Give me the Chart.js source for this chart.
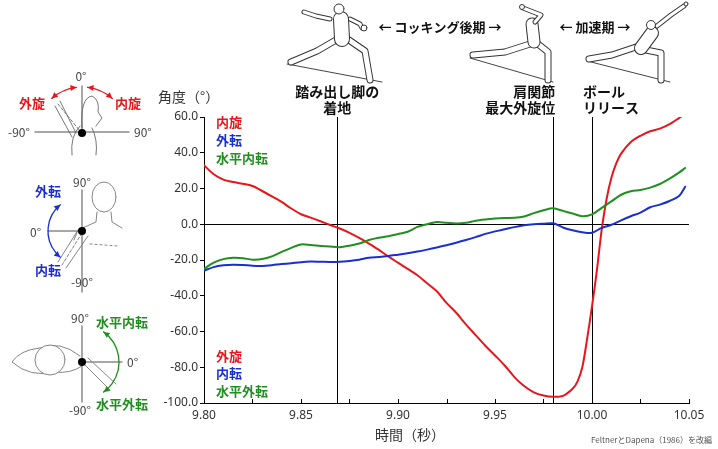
<!DOCTYPE html>
<html>
<head>
<meta charset="utf-8">
<script src="https://cdn.jsdelivr.net/npm/chart.js@4.4.1/dist/chart.umd.min.js"></script>
<style>
  html, body { margin: 0; padding: 0; background: #fff; }
  #wrap { position: relative; width: 718px; height: 449px; }
</style>
</head>
<body>
<div id="wrap"><canvas id="chart" width="718" height="449"></canvas></div>
<script>
// time (s) shared by the blue and green series
var times = [9.800, 9.805, 9.810, 9.815, 9.820, 9.825, 9.830, 9.835, 9.840, 9.845,
             9.850, 9.855, 9.860, 9.865, 9.870, 9.875, 9.880, 9.885, 9.890, 9.895,
             9.900, 9.905, 9.910, 9.915, 9.920, 9.925, 9.930, 9.935, 9.940, 9.945,
             9.950, 9.955, 9.960, 9.965, 9.970, 9.975, 9.980, 9.985, 9.990, 9.995,
             10.000, 10.005, 10.010, 10.015, 10.020, 10.025, 10.030, 10.035, 10.040, 10.045,
             10.048];

// 外転(+) / 内転(-)  blue
var abduction = [-26, -24, -23, -22.6, -22.8, -23.2, -23.3, -22.9, -22.3, -21.8,
                 -21.2, -20.9, -21, -21.1, -21, -20.5, -19.8, -18.8, -18.3, -17.8,
                 -17, -16.2, -15.3, -14.2, -13, -11.7, -10.3, -8.8, -7.2, -5.4,
                 -4, -2.8, -1.6, -0.6, 0, 0.3, 0.5, -1.8, -3.4, -4.5,
                 -4.8, -2, -0.3, 2.2, 4.5, 6.5, 9.5, 11, 13, 16,
                 21];

// 水平内転(+) / 水平外転(-)  green
var horizontal = [-25, -21.5, -19.5, -18.8, -19, -19.8, -19.5, -18, -15.5, -13.2,
                  -11.3, -11.6, -12.1, -12.5, -12.8, -12, -10.8, -8.8, -7.5, -6.7,
                  -5.5, -4.2, -1.5, 0, 1.3, 0.8, 0.4, 0.8, 2, 2.7,
                  3.2, 3.5, 3.6, 4.3, 6.2, 7.8, 8.9, 7.5, 6, 4.5,
                  5.5, 9.2, 12.8, 16.5, 18.5, 19.2, 20.5, 22.5, 25.5, 29,
                  31.5];

// 内旋(+) / 外旋(-)  red, sampled more densely around release
var rotTimes = [9.800, 9.805, 9.810, 9.815, 9.820, 9.825, 9.830, 9.835, 9.840, 9.845,
                9.850, 9.855, 9.860, 9.865, 9.870, 9.875, 9.880, 9.885, 9.890, 9.895,
                9.900, 9.905, 9.910, 9.915, 9.920, 9.925, 9.930, 9.935, 9.940, 9.945,
                9.950, 9.955, 9.960, 9.965, 9.970, 9.975, 9.980, 9.985, 9.990, 9.9925,
                9.995, 9.9975, 10.000, 10.0025, 10.005, 10.0075, 10.010, 10.0125, 10.015, 10.020,
                10.025, 10.030, 10.035, 10.040, 10.045, 10.047];
var rotation = [33, 28, 25, 23.6, 22.7, 21.4, 18.6, 15.6, 12.5, 8.8,
                5.6, 3.7, 1.7, -0.4, -2.4, -4.8, -7.6, -10.8, -14.2, -18,
                -21.5, -25, -28.5, -33, -37.5, -44, -49.5, -56, -62, -68,
                -73.4, -79, -85.5, -90.5, -94, -95.8, -96.5, -96, -92, -88,
                -80, -64, -46, -26, -3, 14, 26, 34, 39.5, 46,
                49.5, 52, 53.5, 56, 59.5, 61];

// event markers (s)
var eventTimes = [9.8687, 9.98, 10.00];

var xMin = 9.80, xMax = 10.05, xStep = 0.025;
var yMin = -100, yMax = 60, yStep = 20;

var RED = '#e8161b', BLUE = '#1a2fd0', GREEN = '#1f8f1f';
var JP = '"Noto Sans CJK JP", "Noto Sans", sans-serif';

function pairs(xs, ys) {
    return xs.map(function (x, i) { return { x: x, y: ys[i] }; });
}

function txt(ctx, s, x, y, font, color, align) {
    ctx.font = font;
    ctx.fillStyle = color;
    ctx.textAlign = align || 'left';
    ctx.textBaseline = 'middle';
    ctx.fillText(s, x, y);
}

function arrowHead(ctx, x, y, ang, color) {
    ctx.save();
    ctx.fillStyle = color;
    ctx.translate(x, y);
    ctx.rotate(ang);
    ctx.beginPath();
    ctx.moveTo(0, 0);
    ctx.lineTo(-6, -3);
    ctx.lineTo(-6, 3);
    ctx.closePath();
    ctx.fill();
    ctx.restore();
}

// arc around (cx,cy) from a0 to a1 with arrow heads at both ends
function arcArrow(ctx, cx, cy, r, a0, a1, ccw, color) {
    ctx.save();
    ctx.strokeStyle = color;
    ctx.lineWidth = 1.3;
    ctx.beginPath();
    ctx.arc(cx, cy, r, a0, a1, ccw);
    ctx.stroke();
    var d = ccw ? -1 : 1;
    arrowHead(ctx, cx + r * Math.cos(a1), cy + r * Math.sin(a1), a1 + d * Math.PI / 2, color);
    arrowHead(ctx, cx + r * Math.cos(a0), cy + r * Math.sin(a0), a0 - d * Math.PI / 2, color);
    ctx.restore();
}

function poly(ctx, pts) {
    ctx.beginPath();
    ctx.moveTo(pts[0][0], pts[0][1]);
    for (var i = 1; i < pts.length; i++) ctx.lineTo(pts[i][0], pts[i][1]);
    ctx.stroke();
}

// outlined limb: dark wide stroke with a white core
function limb(ctx, pts, w) {
    ctx.strokeStyle = '#333';
    ctx.lineWidth = w + 2;
    poly(ctx, pts);
    ctx.strokeStyle = '#fff';
    ctx.lineWidth = w;
    poly(ctx, pts);
}

function drawDiagrams(ctx) {
    var grey = '#8a8a8a', lab = '12px ' + JP, dark = '#444';
    ctx.save();
    ctx.lineCap = 'round';

    // --- internal / external rotation
    ctx.strokeStyle = grey; ctx.lineWidth = 1.5;
    poly(ctx, [[82, 86], [82, 132]]);
    poly(ctx, [[35, 132], [129, 132]]);
    ctx.strokeStyle = '#666'; ctx.lineWidth = 0.9;
    ctx.beginPath();
    ctx.moveTo(72, 155); ctx.quadraticCurveTo(70, 136, 80, 126);
    ctx.moveTo(96, 155); ctx.quadraticCurveTo(98, 140, 92, 128);
    ctx.moveTo(82, 128); ctx.quadraticCurveTo(80, 98, 92, 96);
    ctx.quadraticCurveTo(100, 100, 98, 112); ctx.lineTo(102, 118); ctx.lineTo(96, 126);
    ctx.stroke();
    poly(ctx, [[60, 101], [76, 133]]);
    poly(ctx, [[55, 106], [72, 137]]);
    ctx.setLineDash([3, 2]);
    poly(ctx, [[58, 104], [80, 131]]);
    ctx.setLineDash([]);
    ctx.beginPath(); ctx.arc(82, 133, 4, 0, Math.PI * 2); ctx.fillStyle = '#000'; ctx.fill();
    arcArrow(ctx, 82, 133, 46, -Math.PI / 2 - 0.12, -Math.PI / 2 - 0.72, true, RED);
    arcArrow(ctx, 82, 133, 46, -Math.PI / 2 + 0.12, -Math.PI / 2 + 0.72, false, RED);
    txt(ctx, '0°', 81, 76, lab, dark, 'center');
    txt(ctx, '-90°', 8, 132, lab, dark, 'left');
    txt(ctx, '90°', 134, 132, lab, dark, 'left');
    txt(ctx, '外旋', 32, 103, 'bold 13px ' + JP, RED, 'center');
    txt(ctx, '内旋', 128, 103, 'bold 13px ' + JP, RED, 'center');

    // --- abduction / adduction
    ctx.strokeStyle = grey; ctx.lineWidth = 1.5;
    poly(ctx, [[82, 190], [82, 292]]);
    poly(ctx, [[48, 231], [82, 231]]);
    ctx.strokeStyle = '#777'; ctx.lineWidth = 0.9;
    ctx.beginPath(); ctx.ellipse(104, 197, 12, 15, 0, 0, Math.PI * 2); ctx.stroke();
    poly(ctx, [[97, 212], [96, 222], [78, 230], [74, 240]]);
    poly(ctx, [[111, 212], [112, 222], [122, 228]]);
    ctx.setLineDash([2, 3]);
    poly(ctx, [[90, 244], [118, 246]]);
    ctx.setLineDash([]);
    poly(ctx, [[78, 230], [58, 262]]);
    poly(ctx, [[88, 236], [66, 268]]);
    ctx.setLineDash([3, 2]);
    poly(ctx, [[82, 233], [62, 265]]);
    ctx.setLineDash([]);
    ctx.beginPath(); ctx.arc(82, 231, 4, 0, Math.PI * 2); ctx.fillStyle = '#000'; ctx.fill();
    arcArrow(ctx, 82, 231, 34, Math.PI * 1.28, Math.PI * 0.72, true, BLUE);
    txt(ctx, '90°', 82, 182, lab, dark, 'center');
    txt(ctx, '0°', 30, 232, lab, dark, 'left');
    txt(ctx, '-90°', 82, 282, lab, dark, 'center');
    txt(ctx, '外転', 48, 191, 'bold 13px ' + JP, BLUE, 'center');
    txt(ctx, '内転', 48, 270, 'bold 13px ' + JP, BLUE, 'center');

    // --- horizontal adduction / abduction (top view)
    ctx.strokeStyle = '#777'; ctx.lineWidth = 0.9;
    ctx.beginPath();
    ctx.moveTo(80, 356); ctx.quadraticCurveTo(60, 340, 40, 348);
    ctx.quadraticCurveTo(20, 350, 12, 362); ctx.quadraticCurveTo(30, 378, 55, 372);
    ctx.quadraticCurveTo(70, 374, 82, 366);
    ctx.stroke();
    ctx.beginPath(); ctx.arc(50, 360, 15, 0, Math.PI * 2); ctx.fillStyle = '#fff'; ctx.fill(); ctx.stroke();
    poly(ctx, [[82, 362], [110, 390]]);
    poly(ctx, [[88, 358], [116, 384]]);
    ctx.strokeStyle = grey; ctx.lineWidth = 1.5;
    poly(ctx, [[82, 326], [82, 402]]);
    poly(ctx, [[82, 362], [122, 362]]);
    ctx.beginPath(); ctx.arc(82, 362, 4, 0, Math.PI * 2); ctx.fillStyle = '#000'; ctx.fill();
    arcArrow(ctx, 82, 362, 37, -0.95, 0.95, false, GREEN);
    txt(ctx, '90°', 80, 318, lab, dark, 'center');
    txt(ctx, '0°', 127, 362, lab, dark, 'left');
    txt(ctx, '-90°', 80, 410, lab, dark, 'center');
    txt(ctx, '水平内転', 96, 322, 'bold 13px ' + JP, GREEN, 'left');
    txt(ctx, '水平外転', 96, 404, 'bold 13px ' + JP, GREEN, 'left');
    ctx.restore();
}

function drawPitchers(ctx) {
    ctx.save();
    ctx.lineCap = 'round';
    ctx.lineJoin = 'round';

    // ground lines
    ctx.strokeStyle = '#444'; ctx.lineWidth = 1;
    poly(ctx, [[287, 64], [382, 82]]);
    poly(ctx, [[470, 58], [553, 82]]);
    poly(ctx, [[587, 61], [670, 82]]);

    // 1: stride foot landing
    limb(ctx, [[336, 40], [317, 51], [291, 62]], 5);
    limb(ctx, [[349, 40], [365, 51], [370, 80]], 5);
    limb(ctx, [[330, 19], [316, 16], [304, 12]], 3);
    limb(ctx, [[350, 19], [360, 24], [362, 28]], 3);
    limb(ctx, [[341, 19], [342, 39]], 14);
    ctx.strokeStyle = '#333'; ctx.lineWidth = 1; ctx.fillStyle = '#fff';
    ctx.beginPath(); ctx.arc(339, 9, 5, 0, Math.PI * 2); ctx.fill(); ctx.stroke();
    ctx.beginPath(); ctx.arc(364, 28, 3, 0, Math.PI * 2); ctx.fill(); ctx.stroke();

    // 2: maximum external rotation
    limb(ctx, [[530, 44], [505, 52], [473, 55]], 5);
    limb(ctx, [[538, 44], [548, 52], [548, 80]], 5);
    limb(ctx, [[532, 24], [534, 42]], 11);
    limb(ctx, [[535, 22], [541, 15], [523, 8]], 3);
    ctx.strokeStyle = '#333'; ctx.lineWidth = 1; ctx.fillStyle = '#fff';
    ctx.beginPath(); ctx.arc(522, 7, 2.5, 0, Math.PI * 2); ctx.fill(); ctx.stroke();

    // 3: ball release
    limb(ctx, [[636, 47], [612, 55], [589, 59]], 5);
    limb(ctx, [[646, 50], [661, 53], [661, 80]], 5);
    limb(ctx, [[652, 33], [641, 48]], 12);
    limb(ctx, [[657, 26], [671, 15], [684, 6]], 3);
    ctx.strokeStyle = '#333'; ctx.lineWidth = 1; ctx.fillStyle = '#fff';
    ctx.beginPath(); ctx.arc(651, 25, 4.5, 0, Math.PI * 2); ctx.fill(); ctx.stroke();
    ctx.beginPath(); ctx.arc(686, 4, 2, 0, Math.PI * 2); ctx.fill(); ctx.stroke();
    ctx.restore();

    var f = 'bold 13px ' + JP;
    txt(ctx, '← コッキング後期 →', 440, 27, f, '#111', 'center');
    txt(ctx, '← 加速期 →', 595, 27, f, '#111', 'center');
}

var overlay = {
    id: 'overlay',
    beforeDatasetsDraw: function (chart) {
        var ctx = chart.ctx, a = chart.chartArea, x = chart.scales.x, y = chart.scales.y;
        ctx.save();
        ctx.strokeStyle = '#000';
        ctx.lineWidth = 1;
        var y0 = Math.round(y.getPixelForValue(0)) + 0.5;
        ctx.beginPath(); ctx.moveTo(a.left, y0); ctx.lineTo(a.right, y0); ctx.stroke();
        eventTimes.forEach(function (t) {
            var px = Math.round(x.getPixelForValue(t)) + 0.5;
            ctx.beginPath(); ctx.moveTo(px, a.top); ctx.lineTo(px, a.bottom); ctx.stroke();
        });
        // inward tick marks on the time axis
        x.ticks.forEach(function (tk) {
            var px = Math.round(x.getPixelForValue(tk.value)) + 0.5;
            ctx.beginPath(); ctx.moveTo(px, a.bottom); ctx.lineTo(px, a.bottom - 4); ctx.stroke();
        });
        ctx.restore();
    },
    afterDraw: function (chart) {
        var ctx = chart.ctx, a = chart.chartArea, x = chart.scales.x;
        ctx.save();
        var b = 'bold 14px ' + JP;
        var e0 = x.getPixelForValue(eventTimes[0]);
        var e1 = x.getPixelForValue(eventTimes[1]);
        var e2 = x.getPixelForValue(eventTimes[2]);
        txt(ctx, '踏み出し脚の', e0, 92, b, '#111', 'center');
        txt(ctx, '着地', e0, 108, b, '#111', 'center');
        txt(ctx, '肩関節', e1 + 2, 92, b, '#111', 'right');
        txt(ctx, '最大外旋位', e1 + 2, 108, b, '#111', 'right');
        txt(ctx, 'ボール', e2 - 9, 92, b, '#111', 'left');
        txt(ctx, 'リリース', e2 - 9, 108, b, '#111', 'left');

        txt(ctx, '角度（°）', 158, 97, '14px ' + JP, '#333', 'left');
        txt(ctx, '時間（秒）', 410, 435, '14px ' + JP, '#333', 'center');
        txt(ctx, 'FeltnerとDapena（1986）を改編', 712, 440, '8px ' + JP, '#555', 'right');

        var lf = 'bold 13px ' + JP, lx = a.left + 12;
        txt(ctx, '内旋', lx, 122, lf, RED);
        txt(ctx, '外転', lx, 140, lf, BLUE);
        txt(ctx, '水平内転', lx, 158, lf, GREEN);
        txt(ctx, '外旋', lx, 356, lf, RED);
        txt(ctx, '内転', lx, 373, lf, BLUE);
        txt(ctx, '水平外転', lx, 391, lf, GREEN);

        drawDiagrams(ctx);
        drawPitchers(ctx);
        ctx.restore();
    }
};

var tickFont = { family: '"Noto Sans", "DejaVu Sans", sans-serif', size: 12 };

new Chart(document.getElementById('chart'), {
    type: 'line',
    data: {
        datasets: [
            { label: '水平内転', data: pairs(times, horizontal), borderColor: GREEN, borderWidth: 2 },
            { label: '外転', data: pairs(times, abduction), borderColor: BLUE, borderWidth: 2 },
            { label: '内旋', data: pairs(rotTimes, rotation), borderColor: RED, borderWidth: 2 }
        ]
    },
    options: {
        responsive: false,
        animation: false,
        events: [],
        layout: { padding: { left: 150, top: 117, right: 29, bottom: 16 } },
        elements: { point: { radius: 0 }, line: { tension: 0.3, borderCapStyle: 'round' } },
        plugins: { legend: { display: false }, tooltip: { enabled: false } },
        scales: {
            x: {
                type: 'linear',
                min: xMin, max: xMax,
                afterFit: function (s) { s.height = 30; },
                ticks: {
                    stepSize: xStep,
                    autoSkip: false,
                    maxRotation: 0,
                    padding: 5,
                    color: '#333',
                    font: tickFont,
                    callback: function (v) {
                        var k = Math.round((v - xMin) / xStep);
                        return k % 2 === 0 ? v.toFixed(2) : '';
                    }
                },
                grid: { drawOnChartArea: false, drawTicks: false },
                border: { color: '#000', width: 1 }
            },
            y: {
                min: yMin, max: yMax,
                afterFit: function (s) { s.width = 54; },
                ticks: {
                    stepSize: yStep,
                    padding: 2,
                    color: '#333',
                    font: tickFont,
                    callback: function (v) { return v.toFixed(1); }
                },
                grid: { drawOnChartArea: false, drawTicks: true, tickLength: 4, color: '#000' },
                border: { color: '#000', width: 1 }
            }
        }
    },
    plugins: [overlay]
});
</script>
</body>
</html>
